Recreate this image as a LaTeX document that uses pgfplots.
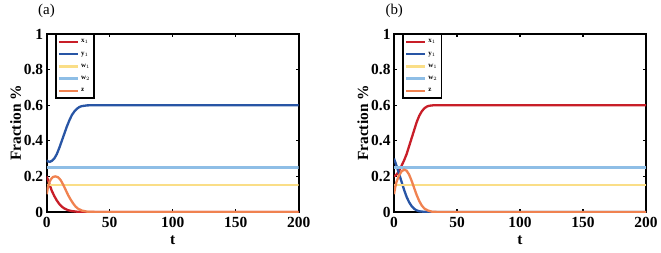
\documentclass[border=0pt]{standalone}
\usepackage{fontspec}
\setmainfont{Liberation Serif}
\usepackage{pgfplots}
\pgfplotsset{compat=1.18}
\definecolor{colA}{HTML}{C81E28}
\definecolor{colB}{HTML}{2855A5}
\definecolor{colC}{HTML}{FADE87}
\definecolor{colD}{HTML}{8EBEE6}
\definecolor{colE}{HTML}{F08250}
\pgfplotsset{
  myax/.style={
    scale only axis, width=252bp, height=178bp,
    xmin=0, xmax=200, ymin=0, ymax=1,
    xtick={0,50,100,150,200}, ytick={0,0.2,0.4,0.6,0.8,1},
    yticklabels={0,0.2,0.4,0.6,0.8,1},
    tick align=inside, major tick length=3bp,
    axis line style={line width=1.8bp},
    every tick/.style={black, line width=1.2bp},
    /pgf/number format/assume math mode=true,
    tick label style={font=\fontsize{15.5}{17}\selectfont\bfseries},
    xticklabel style={yshift=-2bp},
    label style={font=\fontsize{15.5}{17}\selectfont\bfseries},
    xlabel={t}, ylabel={Fraction \%},
    xlabel style={yshift=-1bp},
    ylabel style={yshift=-4bp},
    legend style={at={(0.033,1)}, anchor=north west, draw=black, line width=1.5bp,
      font=\fontsize{7}{8}\selectfont\bfseries, row sep=3.5bp, inner xsep=2bp, inner ysep=3bp},
    legend cell align=left,
    legend image code/.code={\draw[#1] (0bp,0bp) -- (19bp,0bp);},
  },
  pl/.style={color=#1, line width=2.3bp, mark=none, solid},
}
\begin{document}
\begin{tikzpicture}
\path[use as bounding box] (-46.7bp,-41bp) rectangle (614.3bp,212bp);
\begin{axis}[myax]
\addplot[pl=colA] coordinates {(0,0.2)(2,0.16)(4,0.12)(6,0.09)(8,0.065)(10,0.045)(12,0.03)(14,0.02)(17,0.01)(20,0.005)(25,0.001)(30,0)(200,0)};
\addplot[pl=colB] coordinates {(0,0.29)(1,0.284)(2.5,0.282)(4,0.287)(6,0.3)(8,0.325)(10,0.36)(12,0.4)(14,0.44)(16,0.48)(18,0.515)(20,0.545)(22,0.565)(24,0.58)(26,0.59)(28,0.595)(32,0.599)(40,0.6)(200,0.6)};
\addplot[pl=colC] coordinates {(0,0.15)(100,0.15)(200,0.15)};
\addplot[pl=colD] coordinates {(0,0.25)(100,0.25)(200,0.25)};
\addplot[pl=colE] coordinates {(0,0.1)(1,0.14)(2,0.165)(3,0.18)(4,0.19)(5,0.197)(7,0.2)(9,0.195)(11,0.18)(13,0.155)(15,0.125)(17,0.095)(19,0.07)(21,0.048)(23,0.03)(25,0.018)(28,0.008)(32,0.002)(40,0)(200,0)};
\legend{x$_1$,y$_1$,w$_1$,w$_2$,z}
\end{axis}
\node[anchor=base west, font=\fontsize{15}{17}\selectfont] at (-12bp,197bp) {(a)};
\begin{axis}[myax, xshift=347.3bp]
\addplot[pl=colA] coordinates {(0,0.2)(2,0.21)(4,0.23)(6,0.26)(8,0.29)(10,0.325)(12,0.37)(14,0.415)(16,0.46)(18,0.505)(20,0.54)(22,0.565)(24,0.582)(26,0.592)(28,0.597)(32,0.6)(200,0.6)};
\addplot[pl=colB] coordinates {(0,0.3)(2,0.26)(4,0.215)(6,0.17)(8,0.125)(10,0.085)(12,0.055)(14,0.033)(16,0.018)(18,0.009)(20,0.004)(24,0.001)(30,0)(200,0)};
\addplot[pl=colC] coordinates {(0,0.15)(100,0.15)(200,0.15)};
\addplot[pl=colD] coordinates {(0,0.25)(100,0.25)(200,0.25)};
\addplot[pl=colE] coordinates {(0,0.1)(1,0.14)(2,0.17)(4,0.205)(6,0.228)(8,0.238)(10,0.232)(12,0.21)(14,0.175)(16,0.135)(18,0.095)(20,0.062)(22,0.037)(24,0.02)(27,0.008)(30,0.002)(35,0)(200,0)};
\legend{x$_1$,y$_1$,w$_1$,w$_2$,z}
\end{axis}
\node[anchor=base west, font=\fontsize{15}{17}\selectfont] at (335.3bp,197bp) {(b)};
\end{tikzpicture}
\end{document}
